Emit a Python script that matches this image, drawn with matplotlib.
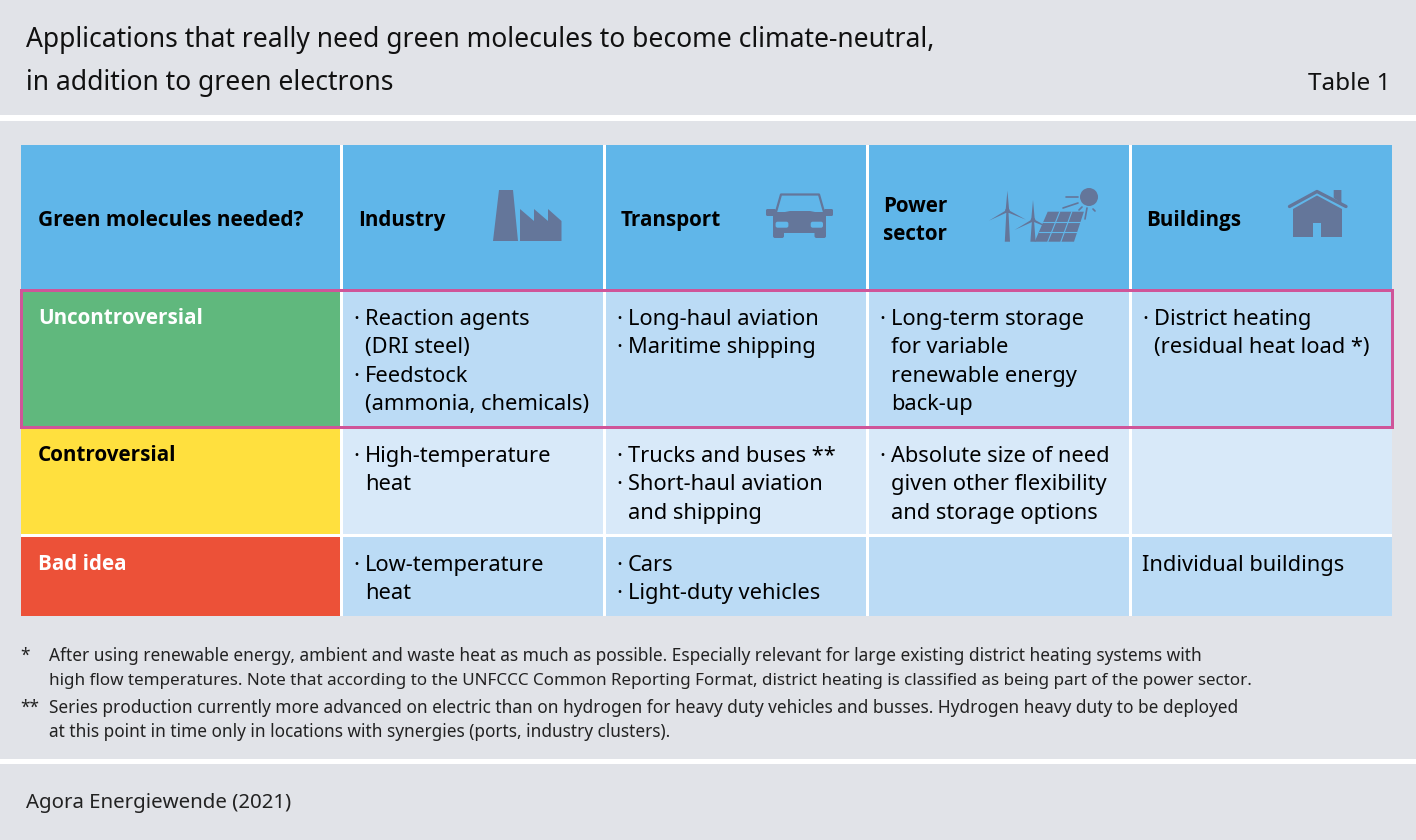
import matplotlib
matplotlib.use("Agg")
import matplotlib.pyplot as plt
from matplotlib.patches import Rectangle, Polygon, Circle, FancyBboxPatch

plt.rcParams['font.family'] = ['Noto Sans', 'DejaVu Sans']

title_lines = ["Applications that really need green molecules to become climate-neutral,",
               "in addition to green electrons"]
table_label = "Table 1"
source = "Agora Energiewende (2021)"
corner = "Green molecules needed?"
columns = [["Industry"], ["Transport"], ["Power", "sector"], ["Buildings"]]
row_names = ["Uncontroversial", "Controversial", "Bad idea"]
row_name_colors = ["white", "black", "white"]
cells = [
    [["· Reaction agents", "  (DRI steel)", "· Feedstock", "  (ammonia, chemicals)"],
     ["· Long-haul aviation", "· Maritime shipping"],
     ["· Long-term storage", "  for variable", "  renewable energy", "  back-up"],
     ["· District heating", "  (residual heat load *)"]],
    [["· High-temperature", "  heat"],
     ["· Trucks and buses **", "· Short-haul aviation", "  and shipping"],
     ["· Absolute size of need", "  given other flexibility", "  and storage options"],
     []],
    [["· Low-temperature", "  heat"],
     ["· Cars", "· Light-duty vehicles"],
     [],
     ["Individual buildings"]],
]
notes = [
    ("*", ["After using renewable energy, ambient and waste heat as much as possible. Especially relevant for large existing district heating systems with",
           "high flow temperatures. Note that according to the UNFCCC Common Reporting Format, district heating is classified as being part of the power sector."]),
    ("**", ["Series production currently more advanced on electric than on hydrogen for heavy duty vehicles and busses. Hydrogen heavy duty to be deployed",
            "at this point in time only in locations with synergies (ports, industry clusters)."]),
]

BG = "#E1E3E8"; HEAD = "#60B6E9"; DARK = "#BBDBF5"; LIGHT = "#D8E9F9"; ICON = "#64769A"; PINK = "#CF5599"
row_colors = ["#60B87D", "#FFE03E", "#EC5138"]
row_fill = [DARK, LIGHT, DARK]

col_x = [(21, 340), (343, 603), (606, 866), (869, 1129), (1132, 1392)]
row_y = [(292, 426), (429, 534), (537, 616)]
head_y = (145, 289)
base_first = [325, 462, 571]
LH = 28.4
BOLD = ['Open Sans', 'DejaVu Sans']

fig = plt.figure(figsize=(14.16, 8.4), dpi=100, facecolor=BG)
ax = fig.add_axes([0, 0, 1, 1])
ax.set_xlim(0, 1416); ax.set_ylim(840, 0); ax.axis("off")

def rect(x0, y0, x1, y1, c, z=1):
    ax.add_patch(Rectangle((x0, y0), x1 - x0, y1 - y0, fc=c, ec="none", zorder=z, antialiased=False))

def txt(x, y, s, size=16.6, **kw):
    ax.text(x, y, s, fontsize=size, va="baseline", color=kw.pop("color", "black"), zorder=6, **kw)

def head(x, y, s, color="black", size=14.85):
    txt(x, y, s, size=size, fontweight="bold", family=BOLD, color=color)

# bands
rect(0, 115, 1416, 121, "white")
rect(0, 759, 1416, 764, "white")
rect(21, 145, 1392, 616, "white", z=0.5)
for i, s in enumerate(title_lines):
    txt(26, [47, 90][i], s, size=19.05, color="#111111")
txt(1391, 90, table_label, size=17.5, ha="right", color="#111111")
txt(26, 808, source, size=14.7, color="#222222")

# header
for x0, x1 in col_x:
    rect(x0, head_y[0], x1, head_y[1], HEAD)
head(38, 226, corner, size=15.05)
for (x0, x1), lab, dx in zip(col_x[1:], columns, [16, 15, 15, 15]):
    if len(lab) == 1:
        head(x0 + dx - 0.5, 226, lab[0])
    else:
        head(x0 + dx - 0.5, 212, lab[0])
        head(x0 + dx - 0.5, 240, lab[1])

# rows
for r, ((y0, y1), name) in enumerate(zip(row_y, row_names)):
    rect(col_x[0][0], y0, col_x[0][1], y1, row_colors[r])
    head(38, base_first[r] - 1, name, color=row_name_colors[r])
    for c, (x0, x1) in enumerate(col_x[1:]):
        rect(x0, y0, x1, y1, row_fill[r])
        for k, line in enumerate(cells[r][c]):
            y = base_first[r] + k * LH
            if line.startswith("· "):
                txt(x0 + 10.5, y, "·", size=15.7)
                txt(x0 + 22, y, line[2:], size=15.7)
            elif line.startswith("  "):
                txt(x0 + 22, y, line[2:], size=15.7)
            else:
                txt(x0 + 10, y, line, size=15.7)

ax.add_patch(Rectangle((20.7, 289.7), 1371.5, 137.3, fc="none", ec=PINK, lw=2.16, zorder=5))

# footnotes
y_notes = [660.7, 684.7, 712.7, 736.7]
note_sizes = [12.44, 12.28, 12.44, 12.36]
k = 0
for mark, lines in notes:
    txt(20, y_notes[k], mark, size=12.4, color="#222222")
    for l in lines:
        txt(49, y_notes[k], l, size=note_sizes[k], color="#222222")
        k += 1

# icons
def poly(pts, c=ICON, **kw):
    ax.add_patch(Polygon(pts, closed=True, fc=c, ec="none", zorder=4, **kw))
def line(xs, ys, lw=1.5, c=ICON):
    ax.plot(xs, ys, color=c, lw=lw, zorder=4, solid_capstyle="round")
def rbox(x0, y0, x1, y1, r, c=ICON):
    ax.add_patch(FancyBboxPatch((x0 + r, y0 + r), x1 - x0 - 2 * r, y1 - y0 - 2 * r,
                                boxstyle=f"round,pad={r}", fc=c, ec="none", zorder=4))
# factory
poly([(493, 241), (499, 190), (513, 190), (518, 241)])
poly([(520, 241), (520, 209), (534, 221), (534, 209), (548, 221), (548, 209), (561.5, 221), (561.5, 241)])
# car
line([776, 781, 819, 824], [212, 194.5, 194.5, 212], lw=1.6)
rbox(773, 212, 826, 233, 3)
rbox(773, 230, 784, 238, 2); rbox(814.5, 230, 826, 238, 2)
rbox(766, 209, 776, 216, 1.5); rbox(824, 209, 833, 216, 1.5)
poly([(775, 214), (790, 211), (810, 211), (825, 214), (825, 222), (775, 222)])
rbox(775.6, 221.7, 788.4, 227.7, 2, c=HEAD)
rbox(810.7, 221.7, 823, 227.7, 2, c=HEAD)
# turbines
for hx, hy, top in [(1007.4, 210.7, 190.7), (1033, 220, 200)]:
    poly([(hx - 1, hy), (hx + 1, hy), (hx + 2.6, 241.7), (hx - 2.6, 241.7)])
    poly([(hx - 1.8, hy), (hx, top), (hx + 1.8, hy)])
    poly([(hx + 0.5, hy - 1.5), (hx - 18.5, hy + 10), (hx - 0.5, hy + 1.8)])
    poly([(hx - 0.5, hy - 1.5), (hx + 18.5, hy + 9), (hx + 0.5, hy + 1.8)])
    ax.add_patch(Circle((hx, hy), 2.3, fc=ICON, ec="none", zorder=4))
# panel
P = [(1047.7, 211.7), (1083.9, 211.7), (1074, 241.7), (1034.7, 241.7)]
poly(P)
for t in (1 / 3, 2 / 3):
    line([P[0][0] + t * (P[1][0] - P[0][0]), P[3][0] + t * (P[2][0] - P[3][0])],
         [211.7, 241.7], lw=0.8, c=HEAD)
for t in (1 / 3, 2 / 3):
    line([P[0][0] + t * (P[3][0] - P[0][0]), P[1][0] + t * (P[2][0] - P[1][0])],
         [211.7 + 30 * t] * 2, lw=0.8, c=HEAD)
# sun
ax.add_patch(Circle((1089, 197), 9, fc=ICON, ec="none", zorder=4))
for a, b, e, f in [(1066, 197, 1078, 197), (1063, 208, 1078, 203), (1079, 210, 1082, 207),
                   (1085, 219, 1087, 208), (1093, 209, 1095, 211)]:
    line([a, e], [b, f], lw=1.2)
# house
poly([(1293, 209), (1317, 195.5), (1342, 209), (1342, 237), (1321, 237), (1321, 223), (1313, 223), (1313, 237), (1293, 237)])
poly([(1333.7, 190), (1341.4, 190), (1341.4, 203), (1333.7, 198)])
line([1289.5, 1317, 1346], [206.5, 191.5, 206.5], lw=2.4)

fig.savefig("out.png", dpi=100, facecolor=BG)
